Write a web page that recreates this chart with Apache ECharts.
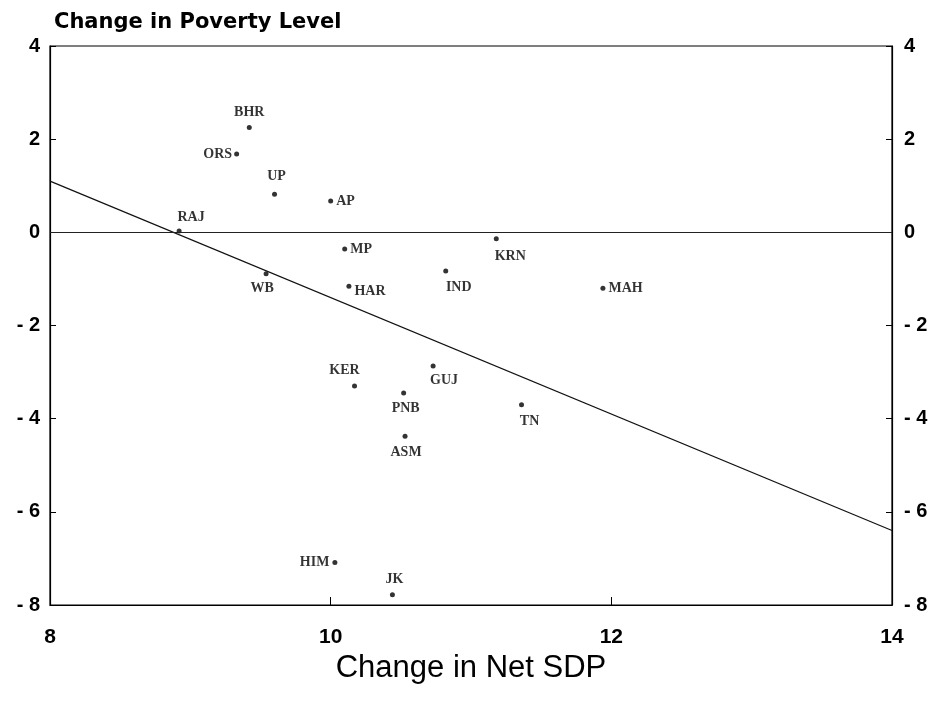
<!DOCTYPE html>
<html>
<head>
<meta charset="utf-8">
<script src="https://cdn.jsdelivr.net/npm/echarts@6/dist/echarts.min.js"></script>
<style>
html,body{margin:0;padding:0;background:#fff;}
#chart{width:938px;height:701px;}
</style>
</head>
<body>
<div id="chart"></div>
<script>
// ---- data ----
const states = ["BHR","ORS","UP","AP","RAJ","MP","WB","HAR","IND","KRN","MAH","KER","GUJ","PNB","ASM","TN","HIM","JK"];
const sdpChange = [9.42,9.33,9.60,10.00,8.92,10.10,9.54,10.13,10.82,11.18,11.94,10.17,10.73,10.52,10.53,11.36,10.03,10.44];
const povertyChange = [2.25,1.68,0.82,0.67,0.03,-0.36,-0.89,-1.16,-0.83,-0.14,-1.20,-3.30,-2.87,-3.45,-4.38,-3.70,-7.09,-7.78];
const fitX = [8, 14];
const fitY = [1.10, -6.40];
const xTicks = [8, 10, 12, 14];
const yTicks = [-8, -6, -4, -2, 0, 2, 4];

// ---- label placement (style) ----
const labelStyle = {
  BHR:{position:'top',distance:6},
  ORS:{position:'left',distance:2},
  UP:{position:'top',distance:8,offset:[2,0]},
  AP:{position:'right',distance:3},
  RAJ:{position:'top',distance:4,offset:[12,0]},
  MP:{position:'right',distance:3},
  WB:{position:'bottom',distance:5,offset:[-4,0]},
  HAR:{position:'right',distance:3,offset:[0,5]},
  IND:{position:'bottom',distance:7,offset:[13,0]},
  KRN:{position:'bottom',distance:8,offset:[14,0]},
  MAH:{position:'right',distance:3},
  KER:{position:'top',distance:6,offset:[-10,0]},
  GUJ:{position:'bottom',distance:5,offset:[11,0]},
  PNB:{position:'bottom',distance:6,offset:[2,0]},
  ASM:{position:'bottom',distance:7,offset:[1,0]},
  TN:{position:'bottom',distance:7,offset:[8,0]},
  HIM:{position:'left',distance:3},
  JK:{position:'top',distance:6,offset:[2,0]}
};

const pts = states.map((s,i)=>({
  name:s,
  value:[sdpChange[i], povertyChange[i]],
  label:Object.assign({show:true, formatter:s}, labelStyle[s])
}));

const fmtY = v => (v < 0 ? '- ' + Math.abs(v) : String(v));
const tickFont = {color:'#000', fontFamily:'Liberation Sans', fontWeight:'bold', fontSize:20};

const chart = echarts.init(document.getElementById('chart'), null, {renderer:'canvas'});
chart.setOption({
  animation:false,
  backgroundColor:'#fff',
  title:{
    text:'Change in Poverty Level',
    left:49, top:7,
    textStyle:{fontFamily:'DejaVu Sans', fontWeight:'bold', fontSize:21, color:'#000'}
  },
  grid:{left:50, right:46, top:46, bottom:96, show:true, borderColor:'#000', borderWidth:1.2},
  xAxis:{
    type:'value', min:xTicks[0], max:xTicks[xTicks.length-1], interval:2,
    name:'Change in Net SDP', nameLocation:'middle', nameGap:34,
    nameTextStyle:{fontFamily:'Liberation Sans', fontSize:31, color:'#000'},
    axisLine:{show:true, onZero:false, lineStyle:{color:'#000', width:1.2}},
    axisTick:{show:true, inside:true, length:8, lineStyle:{color:'#000'}},
    axisLabel:{margin:22, ...tickFont, fontSize:21},
    splitLine:{show:false}
  },
  yAxis:[
    {
      type:'value', min:yTicks[0], max:yTicks[yTicks.length-1], interval:2, position:'left',
      axisLine:{show:true, onZero:false, lineStyle:{color:'#000', width:1.2}},
      axisTick:{show:true, inside:true, length:6, lineStyle:{color:'#000'}},
      axisLabel:{margin:10, formatter:fmtY, ...tickFont},
      splitLine:{show:false}
    },
    {
      type:'value', min:yTicks[0], max:yTicks[yTicks.length-1], interval:2, position:'right',
      axisLine:{show:true, onZero:false, lineStyle:{color:'#000', width:1.2}},
      axisTick:{show:true, inside:true, length:6, lineStyle:{color:'#000'}},
      axisLabel:{margin:12, formatter:fmtY, ...tickFont},
      splitLine:{show:false}
    }
  ],
  series:[
    {
      type:'line',
      data:fitX.map((x,i)=>[x, fitY[i]]),
      symbol:'none',
      lineStyle:{color:'#111', width:1.2},
      silent:true,
      markLine:{
        silent:true, symbol:'none', label:{show:false},
        lineStyle:{color:'#222', width:1, type:'solid'},
        data:[{yAxis:0}]
      }
    },
    {
      type:'scatter',
      data:pts,
      symbol:'circle',
      symbolSize:5,
      itemStyle:{color:'#000'},
      label:{fontFamily:'Liberation Serif', fontWeight:'bold', fontSize:14, color:'#000'}
    }
  ]
});
</script>
</body>
</html>
